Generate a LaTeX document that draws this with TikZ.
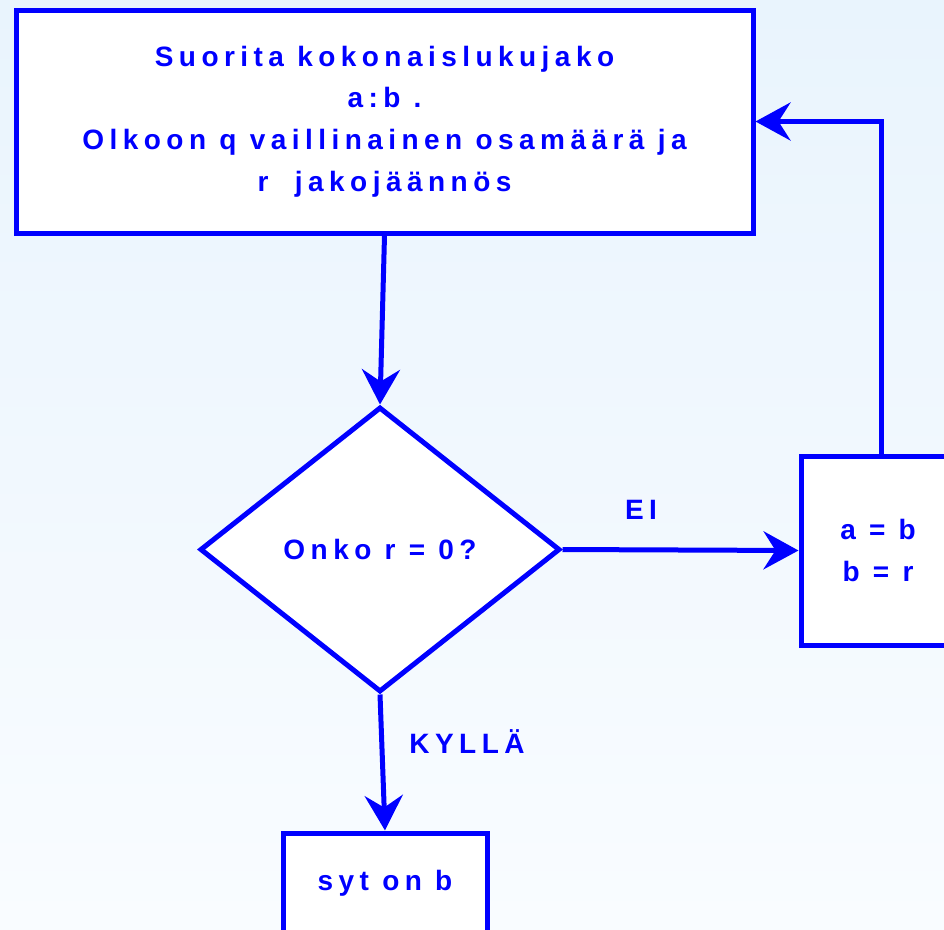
\documentclass[tikz,border=0pt]{standalone}
\usepackage{fontspec}
\setmainfont{Liberation Sans}
\usetikzlibrary{shapes.geometric,arrows.meta,calc}
\newfontfamily\lblfont[LetterSpace=19.5]{Liberation Sans Bold}
\definecolor{fcblue}{RGB}{0,0,255}
\definecolor{bgtop}{RGB}{233,244,253}
\definecolor{bgbot}{RGB}{249,252,255}
\begin{document}
\begin{tikzpicture}[x=1pt,y=-1pt,
  every node/.style={text=fcblue,font=\lblfont\fontsize{28pt}{41.7pt}\selectfont},
  boxst/.style={draw=fcblue,line width=5pt,fill=white,rectangle,inner sep=0pt,align=center},
  decst/.style={draw=fcblue,line width=5pt,fill=white,diamond,inner sep=0pt,aspect=1.26},
  conn/.style={draw=fcblue,line width=5pt,-{Stealth[length=35pt,width=38pt,inset=12pt]}},
  lbl/.style={inner sep=0pt}]
\shade[top color=bgtop,bottom color=bgbot] (0,0) rectangle (944,929);
\useasboundingbox (0,0) rectangle (944,929);
\node[boxst,minimum width=737pt,minimum height=223pt] (top) at (384.5,121.5)
  {Suorita kokonaislukujako\\a:b .\\Olkoon q vaillinainen osamäärä ja\\r\ \ jakojäännös};
\node[decst,minimum width=360pt,minimum height=285pt] (dec) at (380,549.5) {Onko r = 0?};
\node[boxst,minimum width=154pt,minimum height=189pt] (rb) at (878,550.5) {a = b\\b = r};
\node[boxst,minimum width=204pt,minimum height=100pt] (end) at (385,883) {syt on b};
\node[lbl] (ei) at (641,510) {EI};
\node[lbl] (kylla) at (467,742) {KYLLÄ};
\draw[conn] (top.south) -- (dec.north);
\draw[conn] (dec.east) -- (rb.west);
\draw[conn] (dec.south) -- (end.north);
\draw[conn] ($(rb.north)+(3,0)$) |- (top.east);
\end{tikzpicture}
\end{document}
